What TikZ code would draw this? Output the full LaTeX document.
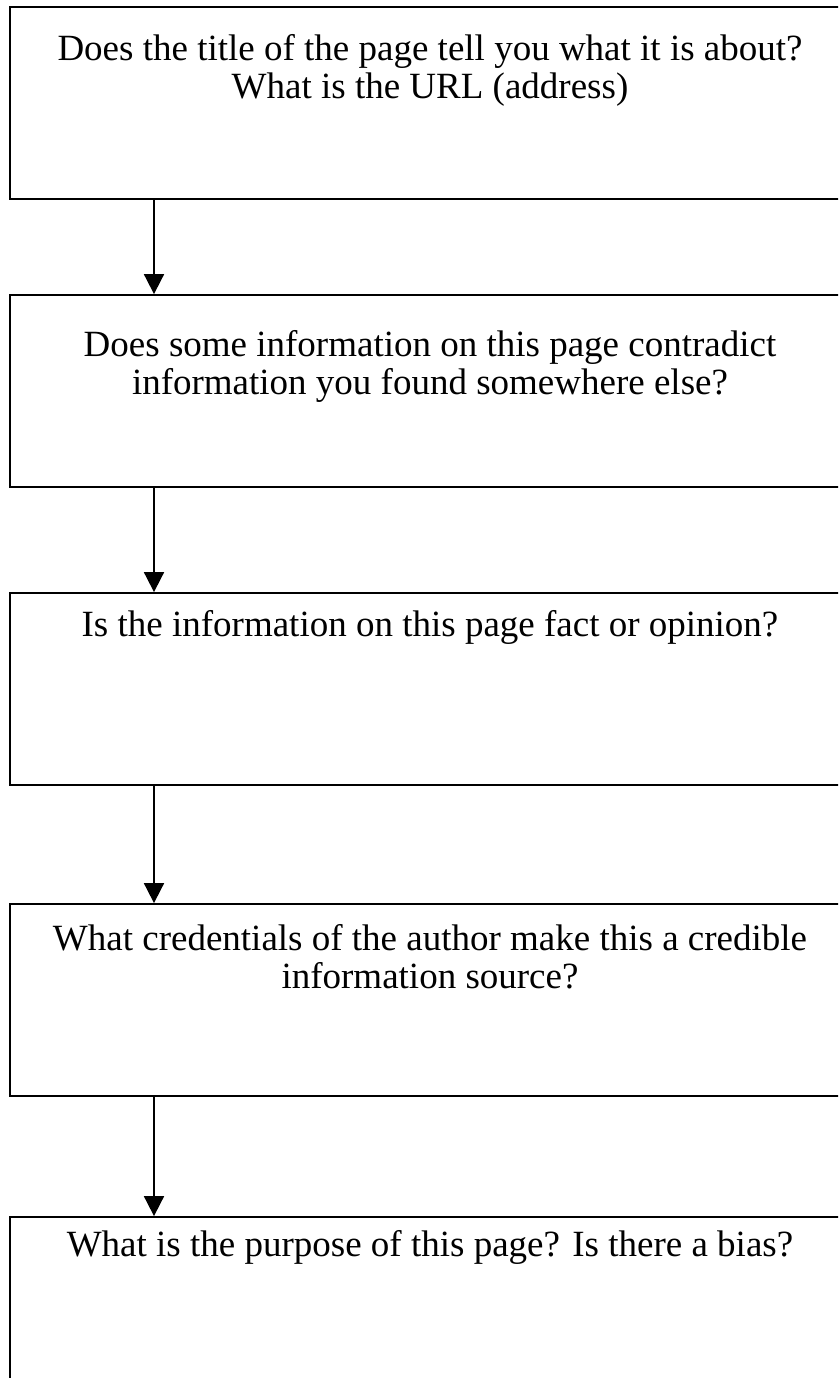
\documentclass[tikz,border=0pt]{standalone}
\usepackage{fontspec}
\setmainfont{Liberation Serif}
\usetikzlibrary{arrows.meta}
\begin{document}
\begin{tikzpicture}[x=1pt,y=-1pt,
  qbox/.style={draw=black,line width=1.8pt,rectangle,minimum width=840pt,minimum height=192pt,inner sep=0pt},
  qtext/.style={anchor=north,align=center,inner sep=0pt,font=\fontsize{37}{38}\selectfont},
  arr/.style={line width=1.8pt,-{Triangle[width=20pt,length=20pt]}}]
\useasboundingbox (0,0) rectangle (838,1378);
\clip (0,0) rectangle (838,1378);
\node[qbox] (b1) at (430,103) {};
\node[qbox] (b2) at (430,391) {};
\node[qbox] (b3) at (430,689) {};
\node[qbox] (b4) at (430,1000) {};
\node[qbox] (b5) at (430,1313) {};
\coordinate (ax) at (154,0);
\node[qtext] (t1) at (430,34) {Does the title of the page tell you what it is about?\\What is the URL (address)};
\node[qtext] (t2) at (430,330) {Does some information on this page contradict\\information you found somewhere else?};
\node[qtext] (t3) at (430,610) {Is the information on this page fact or opinion?};
\node[qtext] (t4) at (430,924) {What credentials of the author make this a credible\\information source?};
\node[qtext] (t5) at (430,1230) {What is the purpose of this page? Is there a bias?};
\draw[arr] (b1.south -| ax) -- (b2.north -| ax);
\draw[arr] (b2.south -| ax) -- (b3.north -| ax);
\draw[arr] (b3.south -| ax) -- (b4.north -| ax);
\draw[arr] (b4.south -| ax) -- (b5.north -| ax);
\end{tikzpicture}
\end{document}
